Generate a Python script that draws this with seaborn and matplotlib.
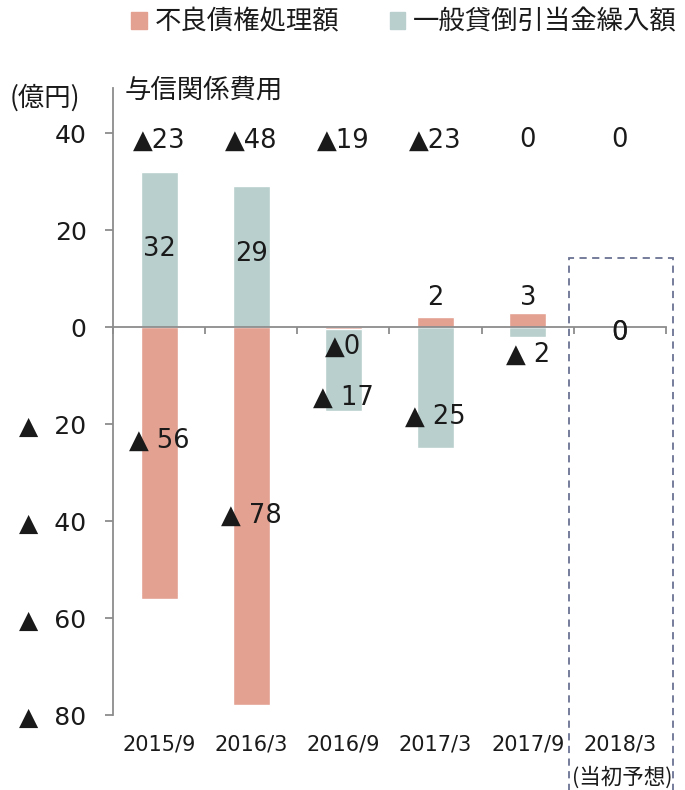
import matplotlib
matplotlib.use("Agg")
import matplotlib.pyplot as plt
import matplotlib.transforms as mtransforms
from matplotlib.patches import Patch, Rectangle
import seaborn as sns
import pandas as pd

sns.set_theme(style="white")
plt.rcParams['font.family'] = ['DejaVu Sans', 'Noto Sans CJK JP']

# ---- data ----
categories = ["2015/9", "2016/3", "2016/9", "2017/3", "2017/9", "2018/3"]
npl_disposal = [-56, -78, -0.4, 2, 3, 0]          # 不良債権処理額
general_provision = [32, 29, -17.4, -25, -2, 0]   # 一般貸倒引当金繰入額
credit_cost_labels = ["▲23", "▲48", "▲19", "▲23", "0", "0"]  # 与信関係費用
npl_labels = ["▲ 56", "▲ 78", "▲0", "2", "3", "0"]
gen_labels = ["32", "29", "▲ 17", "▲ 25", "▲ 2", "0"]
ytick_vals = [40, 20, 0, -20, -40, -60, -80]
ytick_labels = ["40", "20", "0", "▲  20", "▲  40", "▲  60", "▲  80"]
series_names = ["不良債権処理額", "一般貸倒引当金繰入額"]

# label anchor heights (layout)
npl_label_y = [-23.5, -39, -4, 6.0, 6.0, -1.2]
gen_label_y = [16, 15, -14.5, -18.5, -5.8, -1.2]
net_label_y = 38.5

c_npl = "#E3A191"
c_gen = "#B9CFCD"
c_axis = "#8c8c8c"
c_text = "#1a1a1a"
cjk = ['Noto Sans CJK JP', 'DejaVu Sans']

fig = plt.figure(figsize=(6.85, 7.9), dpi=100)
ax = fig.add_axes([113/685, 1-715/790, (666-113)/685, (715-88)/790])

df_gen = pd.DataFrame({"cat": categories, "v": general_provision})
df_npl = pd.DataFrame({"cat": categories, "v": npl_disposal})
sns.barplot(data=df_gen, x="cat", y="v", color=c_gen, saturation=1, width=0.4, ax=ax, order=categories)
sns.barplot(data=df_npl, x="cat", y="v", color=c_npl, saturation=1, width=0.4, ax=ax, order=categories)

ax.set_xlim(-0.5, 5.5)
ax.set_ylim(-80, 49.3)
ax.set_xlabel("")
ax.set_ylabel("")

for s in ["top", "right"]:
    ax.spines[s].set_visible(False)
ax.spines["left"].set_color(c_axis)
ax.spines["left"].set_linewidth(1.3)
ax.spines["bottom"].set_position(("data", 0))
ax.spines["bottom"].set_color(c_axis)
ax.spines["bottom"].set_linewidth(1.3)

ax.set_yticks(ytick_vals)
ax.set_yticklabels(ytick_labels, fontsize=18, color=c_text)
ax.tick_params(axis="y", direction="out", length=6, width=1.3, color=c_axis, pad=13, left=True)

ax.set_xticks(range(len(categories)))
ax.set_xticklabels([])
ax.tick_params(axis="x", which="major", length=0)
ax.set_xticks([i - 0.5 for i in range(len(categories) + 1)], minor=True)
ax.tick_params(axis="x", which="minor", direction="out", length=5, width=1.3, color=c_axis, bottom=True)

trans = mtransforms.blended_transform_factory(ax.transData, ax.transAxes)
for i, c in enumerate(categories):
    ax.text(i, -0.047, c, transform=trans, ha="center", va="center", fontsize=15, color=c_text)
ax.text(5.02, -0.099, "(当初予想)", transform=trans, ha="center", va="center", fontsize=15.5, color=c_text,
        family=cjk)

for i in range(len(categories)):
    ax.text(i, net_label_y, credit_cost_labels[i], ha="center", va="center", fontsize=18.5, color=c_text)
    ax.text(i, npl_label_y[i], npl_labels[i], ha="center", va="center", fontsize=18.5, color=c_text)
    ax.text(i, gen_label_y[i], gen_labels[i], ha="center", va="center", fontsize=18.5, color=c_text)

# dashed box around forecast
rect = Rectangle((4.45, -97), 1.13, 14.2 + 97, fill=False, edgecolor="#6b7394",
                 linestyle=(0, (4, 3)), linewidth=1.3, clip_on=False)
ax.add_patch(rect)

# unit and series title
fig.text(10/685, 1-98/790, "(億円)", ha="left", va="center", fontsize=19, color=c_text, family=cjk)
fig.text(125/685, 1-90/790, "与信関係費用", ha="left", va="center", fontsize=19, color=c_text, family=cjk)

handles = [Patch(color=c_npl), Patch(color=c_gen)]
leg = fig.legend(handles, series_names, loc="center", bbox_to_anchor=(404/685, 1-22/790), ncol=2,
                 frameon=False, handlelength=0.6, handleheight=0.6, handletextpad=0.3,
                 columnspacing=1.9, prop={'family': cjk, 'size': 19})
for t in leg.get_texts():
    t.set_color(c_text)

fig.savefig("out.png", dpi=100)
